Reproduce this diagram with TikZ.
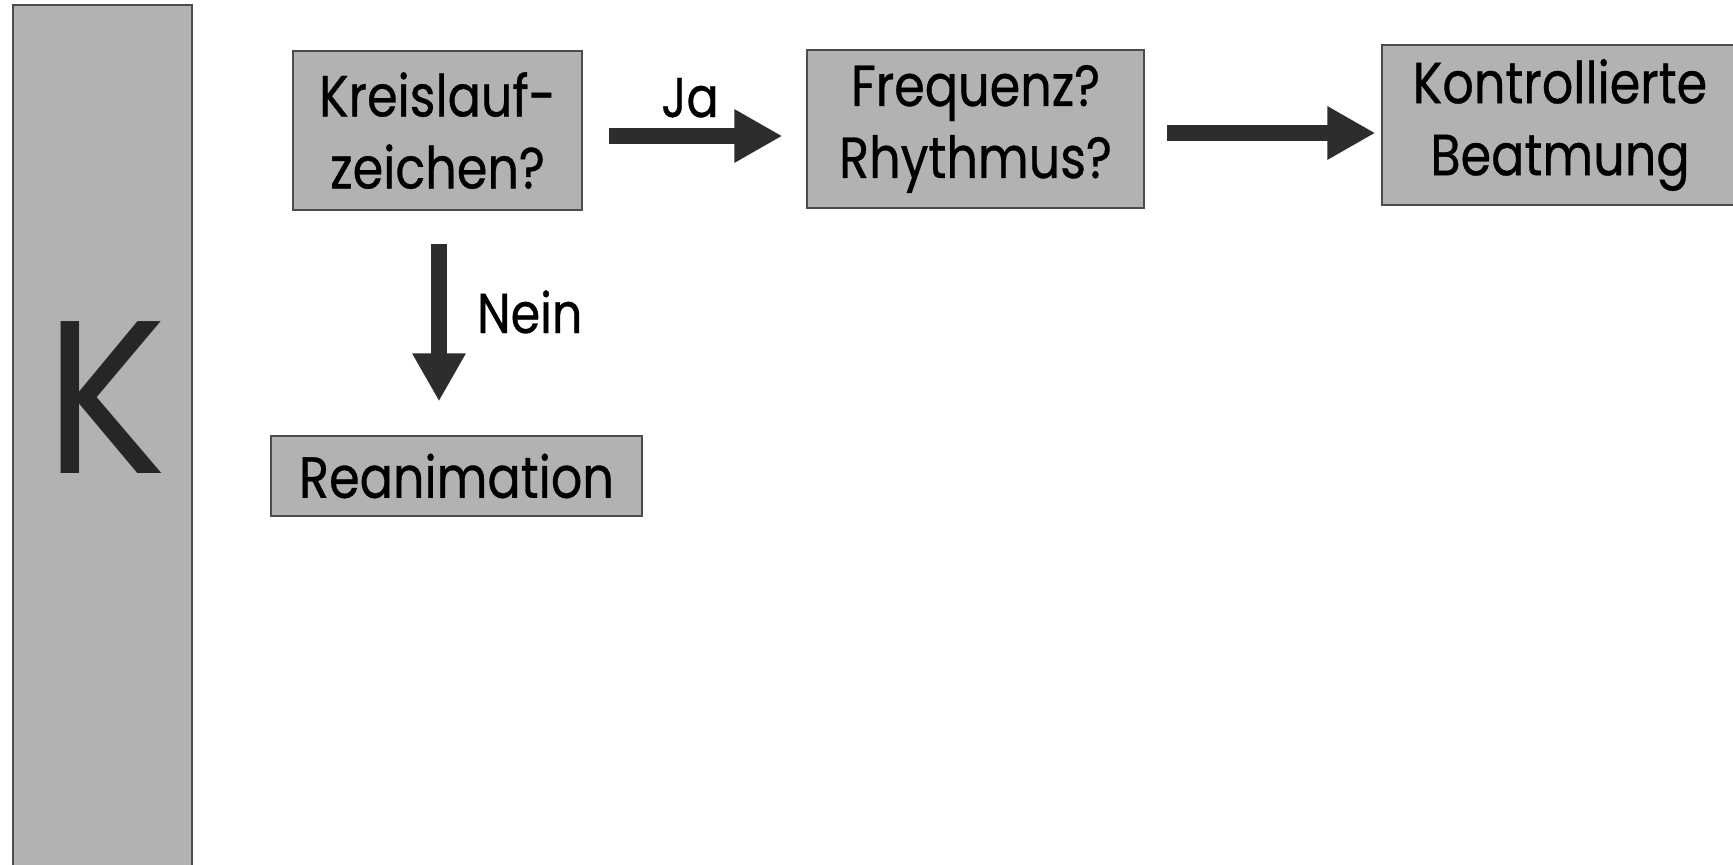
\documentclass[tikz,border=0pt]{standalone}
\usepackage{fontspec}
\setmainfont{Poppins}[FakeStretch=0.85,FakeBold=0.6]
\newfontfamily\kfont{Poppins}[FakeStretch=0.93]
\usetikzlibrary{arrows.meta,calc}
\definecolor{boxgray}{RGB}{178,178,178}
\definecolor{arrowgray}{RGB}{45,45,45}
\begin{document}
\begin{tikzpicture}[x=1pt,y=-1pt,
  boxstyle/.style={fill=boxgray,draw=black!70,line width=1.2pt,inner sep=0pt,
    align=center,font=\fontsize{58}{72}\selectfont,text=black},
  bigarrow/.style={draw=arrowgray,line width=16pt,
    -{Triangle[length=48pt,width=50pt,fill=arrowgray]}},
  lbl/.style={font=\fontsize{56}{72}\selectfont,text=black,inner sep=0pt}]
\useasboundingbox (0,0) rectangle (1733,865);
\fill[white] (0,0) rectangle (1733,865);
% sidebar
\node[boxstyle,minimum width=179pt,minimum height=870pt] (side) at (102.5,440) {};
\node[font=\kfont\fontsize{218}{218}\selectfont,text=black!85,inner sep=0pt,anchor=base] (K) at (106,473) {K};
% boxes
\node[boxstyle,minimum width=289pt,minimum height=159pt] (kr) at (437.5,130.5) {Kreislauf-\\zeichen?};
\node[boxstyle,minimum width=337pt,minimum height=158pt] (fr) at (975.5,129) {Frequenz?\\Rhythmus?};
\node[boxstyle,minimum width=356pt,minimum height=160pt] (kb) at (1560,125) {Kontrollierte\\Beatmung};
\node[boxstyle,minimum width=371pt,minimum height=80pt] (re) at (456.5,476) {Reanimation};
% arrows
\draw[bigarrow] ($(kr.east)+(26,5.5)$) -- ($(fr.west)+(-24,7)$);
\draw[bigarrow] ($(fr.east)+(22,4)$) -- ($(kb.west)+(-6,8)$);
\draw[bigarrow] ($(kr.south)+(1.5,33)$) -- ($(re.north)+(-17.5,-34)$);
% labels
\node[lbl,anchor=base] (ja) at (690,117) {Ja};
\node[lbl,anchor=base west] (nein) at (477,333) {Nein};
\end{tikzpicture}
\end{document}
